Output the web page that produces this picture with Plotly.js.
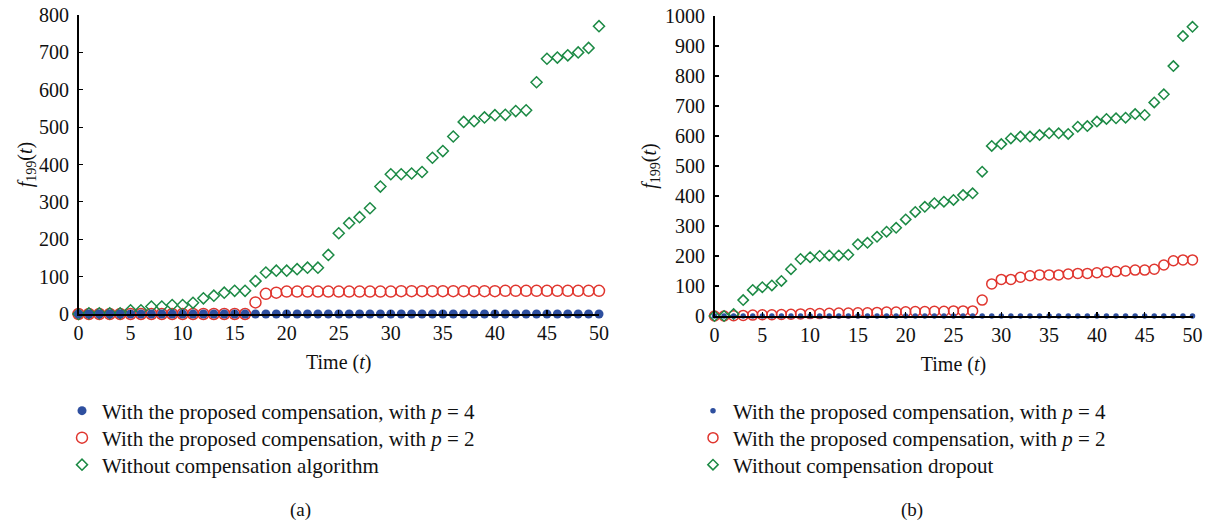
<!DOCTYPE html>
<html>
<head>
<meta charset="utf-8">
<script src="https://cdn.plot.ly/plotly-3.0.1.min.js"></script>
<style>
  html, body { margin: 0; padding: 0; background: #fff; }
  #chart { width: 1207px; height: 525px; }
</style>
</head>
<body>
<div id="chart"></div>
<script>
// ---------- data ----------
const time = Array.from({length: 51}, (_, i) => i);  // t = 0..50

// Panel (a)
const a_p4 = [0,0,0,0,0,0,0,0,0,0,0,0,0,0,0,0,0,0,0,0,0,0,0,0,0,0,0,0,0,0,0,0,0,0,0,0,0,0,0,0,0,0,0,0,0,0,0,0,0,0,0];
const a_p2 = [0,0,0,0,0,0,0,0,0,0,0,0,0,0,0,0,0,31,54,57,60,60,60,60,60,60,60,60,60,60,60,61,61,61,61,61,61,61,61,61,61,62,62,62,62,62,62,62,62,62,62];
const a_none = [0,2,2,2,2,10,10,20,20,24,24,30,42,49,57,62,62,88,111,116,116,120,124,124,158,216,243,259,283,341,374,374,376,380,418,436,475,514,516,526,532,533,543,545,620,683,686,692,700,712,770];

// Panel (b)
const b_p4 = [0,0,0,0,0,0,0,0,0,0,0,0,0,0,0,0,0,0,0,0,0,0,0,0,0,0,0,0,0,0,0,0,0,0,0,0,0,0,0,0,0,0,0,0,0,0,0,0,0,0,0];
const b_p2 = [0,0,1,2,3,4,4,5,6,7,8,8,9,10,10,11,11,12,13,13,14,15,15,16,16,17,17,17,53,107,122,122,129,134,137,137,137,140,142,142,144,147,148,150,153,153,156,170,184,187,187];
const b_none = [0,0,7,53,87,96,102,117,156,190,196,200,202,202,204,239,244,264,281,294,322,347,364,376,381,387,403,409,481,567,573,592,598,598,603,609,609,607,631,633,648,657,659,661,673,670,712,739,833,933,964];

const names_a = ["With the proposed compensation, with <i>p</i> = 4",
                 "With the proposed compensation, with <i>p</i> = 2",
                 "Without compensation algorithm"];
const names_b = ["With the proposed compensation, with <i>p</i> = 4",
                 "With the proposed compensation, with <i>p</i> = 2",
                 "Without compensation dropout"];
const panelLabels = ["(a)", "(b)"];
const xTitle = "Time (<i>t</i>)";
const yTitle = "<i>f</i><sub>199</sub>(<i>t</i>)";

// ---------- styles ----------
const FONT = "Liberation Serif";
const BLUE = "#2e4f9f", RED = "#e0362f", GREEN = "#1c8a45";
const W = 1207, H = 525;

function tr(x, y, name, sym, color, size, xa, ya, leg, filled) {
  return {
    x: x, y: y, name: name, type: "scatter", mode: "markers",
    xaxis: xa, yaxis: ya, legend: leg, cliponaxis: false,
    marker: filled
      ? {symbol: sym, color: color, size: size, line: {width: 0}}
      : {symbol: sym, color: color, size: size, line: {color: color, width: 1.5}}
  };
}

const data = [
  tr(time, a_p2, names_a[1], "circle-open", RED, 11, "x", "y", "legend2", false),
  tr(time, a_none, names_a[2], "diamond-open", GREEN, 8.5, "x", "y", "legend3", false),
  tr(time, a_p4, names_a[0], "circle", BLUE, 9, "x", "y", "legend", true),
  tr(time, b_p2, names_b[1], "circle-open", RED, 10, "x2", "y2", "legend5", false),
  tr(time, b_none, names_b[2], "diamond-open", GREEN, 8, "x2", "y2", "legend6", false),
  tr(time, b_p4, names_b[0], "circle", BLUE, 5.5, "x2", "y2", "legend4", true)
];

function axisBase(extra) {
  return Object.assign({
    showgrid: false, zeroline: false, showline: true,
    linecolor: "#000", linewidth: 1.5,
    ticks: "inside", ticklen: 4, tickwidth: 1.2, tickcolor: "#000",
    tickfont: {family: FONT, size: 20, color: "#111"},
    fixedrange: true
  }, extra);
}

function legendAt(px, py) {
  return {
    x: px / W, y: 1 - py / H, xanchor: "left", yanchor: "middle",
    font: {family: FONT, size: 21, color: "#111"},
    bgcolor: "rgba(0,0,0,0)", borderwidth: 0, itemclick: false, itemdoubleclick: false
  };
}

const layout = {
  width: W, height: H,
  margin: {l: 0, r: 0, t: 0, b: 0},
  paper_bgcolor: "#fff", plot_bgcolor: "#fff",
  font: {family: FONT, color: "#111"},
  showlegend: true,
  xaxis: axisBase({
    domain: [78.5 / W, 599 / W], range: [0, 50], dtick: 5, tick0: 0,
    anchor: "y",
    title: {text: xTitle, font: {family: FONT, size: 20}, standoff: 12}
  }),
  yaxis: axisBase({
    domain: [(H - 314) / H, (H - 15) / H], range: [0, 800], dtick: 100,
    anchor: "x", ticklabelstandoff: 4,
    title: {text: yTitle, font: {family: FONT, size: 20}, standoff: 1}
  }),
  xaxis2: axisBase({
    domain: [714.5 / W, 1192.5 / W], range: [0, 50], dtick: 5, tick0: 0,
    anchor: "y2",
    title: {text: xTitle, font: {family: FONT, size: 20}, standoff: 12}
  }),
  yaxis2: axisBase({
    domain: [(H - 316) / H, (H - 16) / H], range: [0, 1000], dtick: 100,
    anchor: "x2", ticklabelstandoff: 4,
    title: {text: yTitle, font: {family: FONT, size: 20}, standoff: 3}
  }),
  legend: legendAt(62, 411),
  legend2: legendAt(62, 438),
  legend3: legendAt(62, 465),
  legend4: legendAt(693, 411),
  legend5: legendAt(693, 438),
  legend6: legendAt(693, 465),
  annotations: [
    {text: panelLabels[0], x: 300 / W, y: 1 - 510 / H, xref: "paper", yref: "paper",
     xanchor: "center", yanchor: "middle",
     showarrow: false, font: {family: FONT, size: 19, color: "#111"}},
    {text: panelLabels[1], x: 912 / W, y: 1 - 510 / H, xref: "paper", yref: "paper",
     xanchor: "center", yanchor: "middle",
     showarrow: false, font: {family: FONT, size: 19, color: "#111"}}
  ]
};

Plotly.newPlot("chart", data, layout, {displayModeBar: false, staticPlot: true});
</script>
</body>
</html>
